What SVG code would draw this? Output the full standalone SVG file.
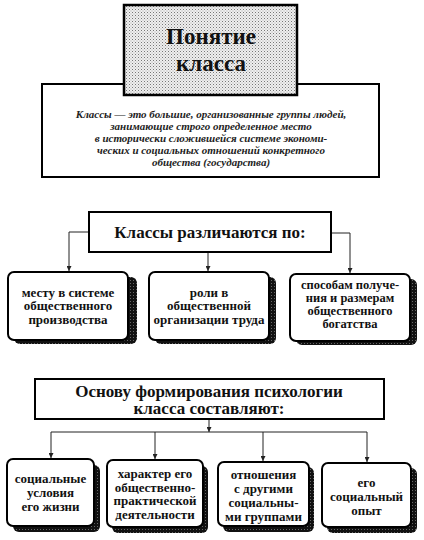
<svg xmlns="http://www.w3.org/2000/svg" width="424" height="540" viewBox="0 0 424 540">
<style>
.bx{fill:#fff;stroke:#000;stroke-width:2}
.sh{fill:url(#dark)}
.t{font-family:"Liberation Serif","DejaVu Serif",serif;font-weight:bold;fill:#111;text-anchor:middle}
.b{font-size:13px}
.s{font-size:12.5px}
.h{font-size:17px}
.d{font-family:"Liberation Serif","DejaVu Serif",serif;font-style:italic;font-weight:bold;font-size:11px;fill:#222;text-anchor:middle}
.c{fill:none;stroke:#222;stroke-width:1}
</style>
<defs>
<pattern id="dots" width="3" height="3" patternUnits="userSpaceOnUse">
<rect width="3" height="3" fill="#efefef"/>
<rect width="1" height="1" fill="#777"/>
<rect x="1.5" y="1.5" width="1" height="1" fill="#aaa"/>
</pattern>
<pattern id="dark" width="3" height="3" patternUnits="userSpaceOnUse">
<rect width="3" height="3" fill="#111"/>
<rect x="1" y="1" width="1" height="1" fill="#666"/>
</pattern>
<marker id="ar" viewBox="0 0 6 6" refX="6" refY="3" markerWidth="5" markerHeight="5" orient="auto">
<path d="M0,0 L6,3 L0,6 z" fill="#222"/>
</marker>
</defs>
<g id="definition">
<rect class="bx" x="42" y="84" width="337" height="93"/>
<text class="d" x="211" y="118">Классы — это большие, организованные группы людей,</text>
<text class="d" x="211" y="130">занимающие строго определенное место</text>
<text class="d" x="211" y="142">в исторически сложившейся системе экономи-</text>
<text class="d" x="211" y="154">ческих и социальных отношений конкретного</text>
<text class="d" x="211" y="166">общества (государства)</text>
</g>
<g id="title">
<rect x="124" y="5" width="173" height="90" fill="url(#dots)" stroke="#000" stroke-width="2.5"/>
<text class="t" x="211" y="44" font-size="23">Понятие</text>
<text class="t" x="211" y="71" font-size="23">класса</text>
</g>
<g id="connectors">
<polyline class="c" points="89,232 69,232 69,271" marker-end="url(#ar)"/>
<line class="c" x1="208" y1="252" x2="208" y2="271" marker-end="url(#ar)"/>
<polyline class="c" points="331,233 350,233 350,273" marker-end="url(#ar)"/>
<line class="c" x1="209" y1="419" x2="209" y2="432" marker-end="url(#ar)"/>
<line class="c" x1="51" y1="432" x2="367" y2="432"/>
<line class="c" x1="51" y1="432" x2="51" y2="458" marker-end="url(#ar)"/>
<line class="c" x1="155" y1="432" x2="155" y2="459" marker-end="url(#ar)"/>
<line class="c" x1="263" y1="432" x2="263" y2="461" marker-end="url(#ar)"/>
<line class="c" x1="367" y1="432" x2="367" y2="462" marker-end="url(#ar)"/>
</g>
<g id="header1">
<rect class="bx" x="89" y="212" width="242" height="40"/>
<text class="t h" x="210" y="238">Классы различаются по:</text>
</g>
<g id="r1n1">
<rect class="sh" x="14" y="277" width="123" height="67" rx="6"/>
<rect class="bx" x="8" y="272" width="120" height="68" rx="6"/>
<text class="t b" x="68" y="296.5">месту в  системе</text>
<text class="t b" x="68" y="310">общественного</text>
<text class="t b" x="68" y="323.5">производства</text>
</g>
<g id="r1n2">
<rect class="sh" x="155" y="277" width="121" height="67" rx="6"/>
<rect class="bx" x="149" y="272" width="120" height="68" rx="6"/>
<text class="t b" x="209" y="296.5">роли в</text>
<text class="t b" x="209" y="310">общественной</text>
<text class="t b" x="209" y="323.5">организации труда</text>
</g>
<g id="r1n3">
<rect class="sh" x="296" y="279" width="121" height="66" rx="6"/>
<rect class="bx" x="290" y="274" width="120" height="67" rx="6"/>
<text class="t s" x="350" y="289">способам  получе-</text>
<text class="t s" x="350" y="302">ния и размерам</text>
<text class="t s" x="350" y="315">общественного</text>
<text class="t s" x="350" y="328">богатства</text>
</g>
<g id="header2">
<rect class="bx" x="35" y="379" width="349" height="40"/>
<text class="t h" x="209" y="396.5">Основу формирования психологии</text>
<text class="t h" x="209" y="414">класса составляют:</text>
</g>
<g id="r2n1">
<rect class="sh" x="13" y="465" width="87" height="67" rx="6"/>
<rect class="bx" x="7" y="459" width="87" height="67" rx="6"/>
<text class="t b" x="50.5" y="483">социальные</text>
<text class="t b" x="50.5" y="497">условия</text>
<text class="t b" x="50.5" y="511">его жизни</text>
</g>
<g id="r2n2">
<rect class="sh" x="112" y="466" width="96" height="67" rx="6"/>
<rect class="bx" x="107" y="460" width="96" height="67" rx="6"/>
<text class="t b" x="155" y="478">характер его</text>
<text class="t b" x="155" y="491.5">общественно-</text>
<text class="t b" x="155" y="505">практической</text>
<text class="t b" x="155" y="518.5">деятельности</text>
</g>
<g id="r2n3">
<rect class="sh" x="223" y="467" width="91" height="65" rx="6"/>
<rect class="bx" x="218" y="462" width="91" height="64" rx="6"/>
<text class="t b" x="263.5" y="479">отношения</text>
<text class="t b" x="263.5" y="493">с другими</text>
<text class="t b" x="263.5" y="507">социальны-</text>
<text class="t b" x="263.5" y="521">ми группами</text>
</g>
<g id="r2n4">
<rect class="sh" x="327" y="468" width="90" height="65" rx="6"/>
<rect class="bx" x="322" y="463" width="89" height="64" rx="6"/>
<text class="t b" x="366.5" y="486.5">его</text>
<text class="t b" x="366.5" y="500.5">социальный</text>
<text class="t b" x="366.5" y="514.5">опыт</text>
</g>
</svg>
